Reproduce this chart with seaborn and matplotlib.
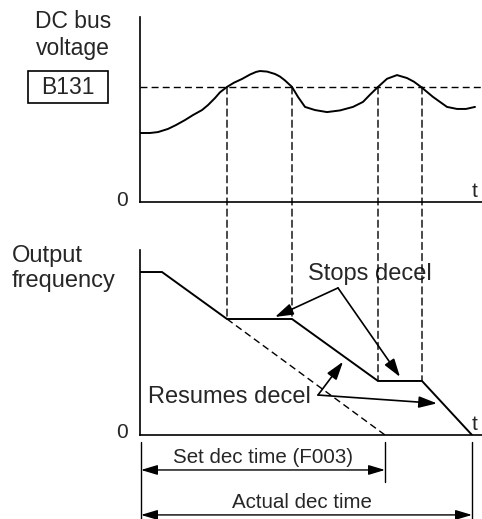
import matplotlib
matplotlib.use("Agg")
import matplotlib.pyplot as plt
import seaborn as sns
import pandas as pd
from matplotlib.patches import Rectangle, ConnectionPatch, ArrowStyle

W, H = 482, 519

# DC bus voltage over time (time in arbitrary units, voltage in % of axis height)
bus_time = [0.0, 1.0, 1.8, 2.8, 3.6, 4.5, 5.3, 6.2, 6.8, 7.5, 8.0, 8.7, 9.4,
            10.2, 11.0, 11.6, 12.0, 12.7, 13.5, 14.0, 14.5, 15.2, 15.8, 16.5,
            17.5, 18.7, 20.0, 21.3, 22.3, 23.0, 23.8, 24.7, 25.7, 26.7, 27.4,
            28.1, 29.3, 30.7, 31.7, 32.6, 33.5]
bus_voltage = [37.3, 37.3, 37.8, 39.5, 41.6, 44.3, 47.0, 49.7, 52.4, 56.2,
               59.3, 62.2, 64.5, 66.5, 68.9, 70.3, 70.8, 70.5, 69.2, 67.8,
               65.7, 62.2, 56.8, 51.4, 49.7, 48.6, 49.5, 51.4, 54.1, 58.0,
               62.2, 66.6, 68.6, 67.0, 65.0, 62.2, 56.8, 51.4, 50.3, 50.3,
               51.4]

# Output frequency during deceleration (% of axis height)
freq_time = [0.0, 2.2, 8.7, 15.2, 23.8, 28.2, 33.2]
freq_value = [88.1, 88.1, 62.7, 62.7, 29.2, 29.2, 0.0]

# Programmed deceleration ramp (without the stall prevention holds)
set_ramp_time = [8.7, 24.5]
set_ramp_value = [62.7, 0.0]

b131_level = 62.2
cross_times = [8.7, 15.2, 23.8, 28.2]
cross_freqs = [62.7, 62.7, 29.2, 29.2]
set_dec_time = 24.5
actual_dec_time = 33.2

sns.set_theme(style="white")
plt.rcParams["font.family"] = ["Liberation Sans", "DejaVu Sans"]
narrow = ["Liberation Sans Narrow", "Liberation Sans", "DejaVu Sans"]

fig = plt.figure(figsize=(W / 100, H / 100), dpi=100)
fig.patch.set_facecolor("white")

ax_v = fig.add_axes([140 / W, 1 - 202 / H, 342 / W, 185 / H])
ax_f = fig.add_axes([140 / W, 1 - 435 / H, 342 / W, 185 / H])

LW = 1.4
DASH = (0, (5, 3))

for ax in (ax_v, ax_f):
    ax.set_xlim(0, 34.2)
    ax.set_ylim(0, 100)
    ax.set_xticks([])
    ax.set_yticks([])
    ax.set_facecolor("none")
    sns.despine(ax=ax)
    for side in ("left", "bottom"):
        ax.spines[side].set_color("black")
        ax.spines[side].set_linewidth(1.2)

bus_df = pd.DataFrame({"t": bus_time, "v": bus_voltage})
sns.lineplot(data=bus_df, x="t", y="v", ax=ax_v, color="black", lw=LW,
             estimator=None, errorbar=None)
ax_v.axhline(b131_level, color="black", lw=1.0, ls=DASH)

freq_df = pd.DataFrame({"t": freq_time, "f": freq_value})
sns.lineplot(data=freq_df, x="t", y="f", ax=ax_f, color="black", lw=LW,
             estimator=None, errorbar=None)
ax_f.plot(set_ramp_time, set_ramp_value, color="black", lw=1.0, ls=DASH)

for ax in (ax_v, ax_f):
    ax.set_xlabel("")
    ax.set_ylabel("")

# Vertical guides from the B131 crossings down to the frequency holds
for t, f in zip(cross_times, cross_freqs):
    cp = ConnectionPatch(xyA=(t, b131_level), coordsA=ax_v.transData,
                         xyB=(t, f), coordsB=ax_f.transData,
                         color="black", lw=1.0, ls=DASH)
    fig.add_artist(cp)

head = ArrowStyle("-|>", head_length=1.1, head_width=0.35)
arrow_kw = dict(arrowstyle=head, color="black", lw=1.2,
                shrinkA=0, shrinkB=0, mutation_scale=10)

# Callouts
ax_f.text(16.8, 83.8, "Stops decel", fontsize=17, va="baseline", ha="left")
for tip in [(13.5, 63.8), (26.0, 31.4)]:
    ax_f.annotate("", xy=tip, xytext=(19.8, 79.5), arrowprops=arrow_kw,
                  annotation_clip=False)

ax_f.text(0.8, 17.3, "Resumes decel", fontsize=17, va="baseline", ha="left")
for tip in [(20.3, 39.6), (29.7, 17.1)]:
    ax_f.annotate("", xy=tip, xytext=(17.8, 21.6), arrowprops=arrow_kw,
                  annotation_clip=False)

# Dimension lines for the deceleration times
dim_head = ArrowStyle("<|-|>", head_length=1.0, head_width=0.3)
dim_kw = dict(arrowstyle=dim_head, color="black", lw=1.0,
              shrinkA=0, shrinkB=0, mutation_scale=10)
ax_f.plot([0.1, 0.1], [-3.8, -45.4], color="black", lw=1.0, clip_on=False)
ax_f.plot([set_dec_time, set_dec_time], [-3.8, -25.4], color="black", lw=1.0,
          clip_on=False)
ax_f.plot([actual_dec_time, actual_dec_time], [-3.8, -45.4], color="black",
          lw=1.0, clip_on=False)
ax_f.annotate("", xy=(set_dec_time, -18.9), xytext=(0.1, -18.9),
              arrowprops=dim_kw, annotation_clip=False)
ax_f.annotate("", xy=(actual_dec_time, -43.2), xytext=(0.1, -43.2),
              arrowprops=dim_kw, annotation_clip=False)
ax_f.text(12.3, -15.1, "Set dec time (F003)", fontsize=14.8, family=narrow,
          ha="center", va="baseline")
ax_f.text(16.2, -39.5, "Actual dec time", fontsize=14.8, family=narrow,
          ha="center", va="baseline")


def ftext(x, y, s, **kw):
    kw.setdefault("va", "baseline")
    fig.text(x / W, 1 - y / H, s, **kw)


ftext(73, 28, "DC bus", fontsize=16.5, ha="center")
ftext(73, 55, "voltage", fontsize=16.5, ha="center")
ftext(68, 94, "B131", fontsize=16.5, ha="center")
fig.add_artist(Rectangle((28 / W, 1 - 103 / H), 80 / W, 32 / H,
                         transform=fig.transFigure, fill=False,
                         edgecolor="black", lw=1.2))
ftext(122, 206, "0", fontsize=15, ha="center")
ftext(12, 262, "Output", fontsize=17, ha="left")
ftext(12, 287, "frequency", fontsize=17, ha="left")
ftext(122, 438, "0", fontsize=15, ha="center")
ftext(472, 197, "t", fontsize=15, ha="left")
ftext(472, 430, "t", fontsize=15, ha="left")

fig.savefig("out.png", dpi=100, facecolor="white")
